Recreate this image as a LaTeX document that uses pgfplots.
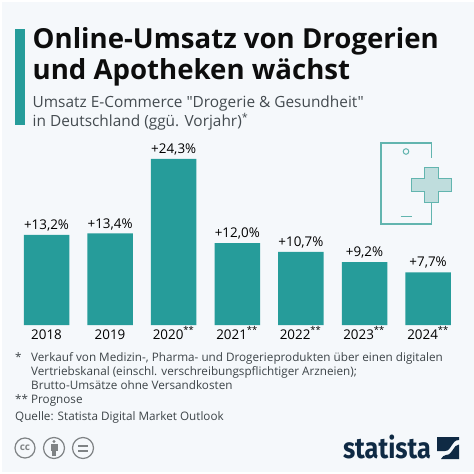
\documentclass[border=0pt]{standalone}
\usepackage{pgfplots}
\pgfplotsset{compat=1.18}
\usepackage{fontspec}
\setmainfont{Open Sans}[Ligatures=TeXOff]
\newfontfamily\logofont{Fira Sans}
\definecolor{bg}{HTML}{F5F8FB}
\definecolor{teal1}{HTML}{269C9A}
\definecolor{ico}{HTML}{62B5AF}
\definecolor{icof}{HTML}{BFDDDD}
\definecolor{navy}{HTML}{0F2A44}
\definecolor{sub}{HTML}{444B50}
\definecolor{ccg}{HTML}{7F8385}
\newcommand{\fs}[1]{\fontsize{#1bp}{#1bp}\selectfont}
\begin{document}
\begin{tikzpicture}[x=1bp,y=-1bp]
\path[use as bounding box,fill=white] (0,0) rectangle (474,474);
\fill[bg] (2,2) rectangle (474,472);
% header
\fill[teal1] (14.5,29) rectangle (25,125);
\node[anchor=base west,inner sep=0,font=\fs{27.6}\bfseries,text=black!95] at (32.5,49) {Online-Umsatz von Drogerien};
\node[anchor=base west,inner sep=0,font=\fs{27.6}\bfseries,text=black!95] at (32.5,80) {und Apotheken wächst};
\node[anchor=base west,inner sep=0,font=\fs{15.4},text=sub] at (32.5,107.5) {Umsatz E-Commerce "Drogerie \& Gesundheit"};
\node[anchor=base west,inner sep=0,font=\fs{15.4},text=sub] at (32.5,126.5) {in Deutschland (ggü. Vorjahr)\textsuperscript{*}};
% icon
\draw[ico,line width=1.1bp] (431.5,158) -- (431.5,143) -- (381,143) -- (381,224) -- (431.5,224) -- (431.5,203);
\draw[ico,line width=1bp] (406,151.5) circle (2.8);
\draw[ico,line width=1.1bp] (400.5,216.5) -- (411.5,216.5);
\draw[ico,line width=1bp,fill=icof] (424,167.5) -- (424,179) -- (411.5,179) -- (411.5,191.5) -- (424,191.5) -- (424,203) -- (438,203) -- (438,191.5) -- (451.5,191.5) -- (451.5,179) -- (438,179) -- (438,167.5) -- cycle;
% chart
\begin{axis}[
  at={(14.7bp,-325bp)},anchor=south west,
  scale only axis,width=445.2bp,height=170.8bp,
  xmin=-0.5,xmax=6.5,ymin=0,ymax=25,
  axis lines=none,clip=false,
  ybar,bar width=45.5bp,bar shift=0pt,
  nodes near coords,
  point meta=explicit symbolic,
  every node near coord/.append style={font=\fs{13.4},text=black,inner sep=0pt,yshift=3.5bp,anchor=south},
]
\addplot[fill=teal1,draw=none] coordinates {
 (0,13.2)[+13,2\%]
 (1,13.4)[+13,4\%]
 (2,24.3)[+24,3\%]
 (3,12.0)[+12,0\%]
 (4,10.7)[+10,7\%]
 (5,9.2)[+9,2\%]
 (6,7.7)[+7,7\%]
};
\end{axis}
\foreach \x/\t in {46.5/2018,110/2019,173.5/2020\textsuperscript{**},237/2021\textsuperscript{**},300.5/2022\textsuperscript{**},364/2023\textsuperscript{**},428/2024\textsuperscript{**}}
 \node[anchor=base,inner sep=0,font=\fs{13.4},text=black] at (\x,339) {\t};
% notes
\begin{scope}[every node/.style={anchor=base west,inner sep=0,font=\fs{11.7},text=sub!90!black}]
\node at (15,361) {*};
\node at (31,361) {Verkauf von Medizin-, Pharma- und Drogerieprodukten über einen digitalen};
\node at (31,375) {Vertriebskanal (einschl. verschreibungspflichtiger Arzneien);};
\node at (31,389) {Brutto-Umsätze ohne Versandkosten};
\node at (15,403.5) {** Prognose};
\node at (15,420) {Quelle: Statista Digital Market Outlook};
\end{scope}
% cc icons
\begin{scope}[ccg]
\draw[line width=1.2bp] (25,448) circle (10);
\node[inner sep=0,font=\fs{10}\bfseries,text=ccg] at (25,447.5) {cc};
\draw[line width=1.2bp] (54,448) circle (10.5);
\fill (54,441.5) circle (1.6);
\fill (50.5,444) rectangle (57.5,451);
\fill (52,451) rectangle (56,456);
\draw[line width=1.2bp] (83,448) circle (10.5);
\fill (78,444.5) rectangle (88,446.5);
\fill (78,449.5) rectangle (88,451.5);
\end{scope}
% logo
\node[anchor=base east,inner sep=0,font=\logofont\fs{29}\bfseries,text=navy] at (431,458.5) {\scalebox{0.87}[1]{statista}};
\fill[navy] (437,437) -- (459,437) -- (459,440) .. controls (451,440) and (452,451) .. (445,451) -- (437,451) -- cycle;
\fill[navy] (441,459) -- (459,459) -- (459,444.5) .. controls (453,444.5) and (453,455) .. (446,455) .. controls (444,455) and (442,457) .. (441,459) -- cycle;
\end{tikzpicture}
\end{document}
